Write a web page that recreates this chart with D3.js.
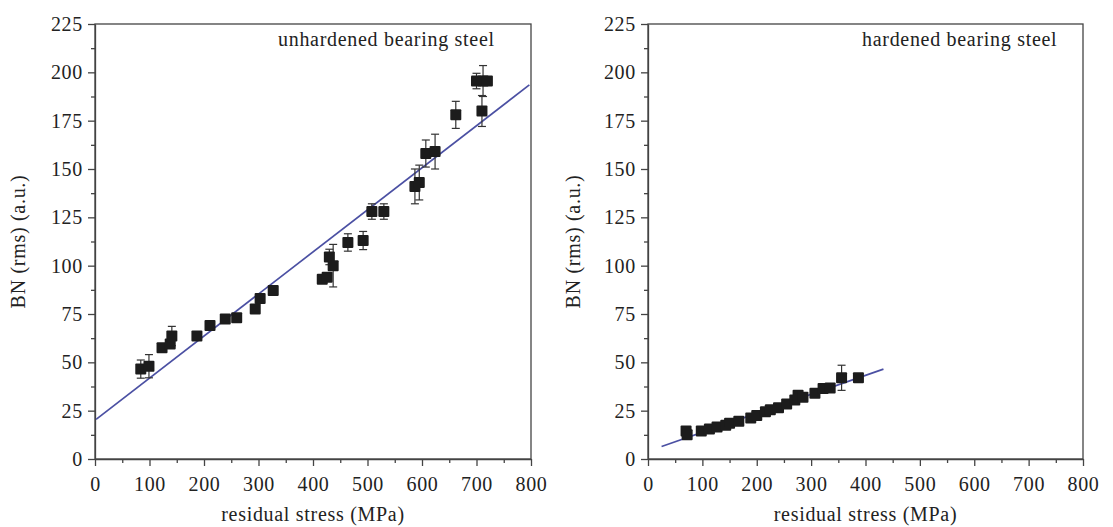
<!DOCTYPE html>
<html>
<head>
<meta charset="utf-8">
<script src="https://cdn.jsdelivr.net/npm/d3@7"></script>
<style>
  body { margin: 0; background: #fff; }
  svg text { font-family: "Liberation Serif", "Times New Roman", serif; fill: #222; letter-spacing: 0.7px; }
</style>
</head>
<body>
<svg id="chart" width="1113" height="527"></svg>
<script>
// unhardened bearing steel: stress (MPa), BN, error
const unhardenedX = [84, 99, 123, 138, 141, 187, 211, 239, 260, 294, 303, 327, 417, 426, 430, 437,
	464, 492, 508, 530, 587, 595, 607, 624, 662, 710, 700, 712, 720];
const unhardenedY = [46.5, 48, 57.5, 59.5, 63.6, 63.6, 69, 72.4, 73, 77.6, 83, 87.2, 93, 94, 104.5, 100,
	112, 113, 128, 128, 141, 143, 158, 159, 178, 180, 195.5, 195.5, 195.5];
const unhardenedErr = [4.7, 6, 0, 0, 5, 0, 1.5, 0, 0, 0, 0, 0, 0, 0, 4, 11,
	4.5, 4.7, 4, 4, 9, 9, 7, 9, 7, 8, 4, 8, 0];
const unhardenedFit = [[2, 20.5], [797, 193.5]];

// hardened bearing steel
const hardenedX = [70, 72, 98, 113, 127, 143, 150, 167, 189, 200, 216, 225, 240, 255, 270, 276, 285,
	307, 322, 335, 356, 387];
const hardenedY = [14.5, 12.5, 14.5, 15.5, 16.5, 17.5, 18.5, 19.5, 21.2, 22.5, 24.5, 25.5, 26.5, 28.5,
	30.5, 33, 32, 34, 36.5, 36.7, 42, 42];
const hardenedErr = [0, 0, 0, 0, 0, 0, 0, 0, 0, 0, 0, 0, 0, 0, 0, 0, 0, 0, 0, 0, 6.5, 0];
const hardenedFit = [[25, 6.5], [433, 46.5]];

const xMajor = [0, 100, 200, 300, 400, 500, 600, 700, 800];
const yMajor = [0, 25, 50, 75, 100, 125, 150, 175, 200, 225];
const xLabel = "residual stress (MPa)";
const yLabel = "BN (rms) (a.u.)";

const svg = d3.select("#chart");
const plotTop = 24, plotH = 435;
const serif = '"Liberation Serif", "Times New Roman", serif';

function drawPanel(left, width, xs, ys, errs, fit, title, titleX, yTitleX) {
	const g = svg.append("g").attr("transform", `translate(${left},${plotTop})`);
	const x = d3.scaleLinear([0, 800], [0, width]);
	const y = d3.scaleLinear([0, 225], [plotH, 0]);

	// minor ticks
	const xMinor = d3.range(50, 800, 100);
	const yMinor = d3.range(12.5, 225, 25);
	const axisColor = "#444";

	const xAx = g.append("g").attr("transform", `translate(0,${plotH})`)
		.call(d3.axisBottom(x).tickValues(xMajor).tickSize(7).tickSizeOuter(0).tickPadding(6));
	g.append("g").attr("transform", `translate(0,${plotH})`)
		.call(d3.axisBottom(x).tickValues(xMinor).tickSize(4).tickSizeOuter(0).tickFormat(""))
		.select(".domain").remove();
	g.append("g")
		.call(d3.axisLeft(y).tickValues(yMajor).tickSize(7).tickSizeOuter(0).tickPadding(5));
	g.append("g")
		.call(d3.axisLeft(y).tickValues(yMinor).tickSize(4).tickSizeOuter(0).tickFormat(""))
		.select(".domain").remove();

	g.selectAll(".tick line").attr("stroke", axisColor).attr("stroke-width", 1.3);
	g.selectAll(".domain").attr("stroke", axisColor).attr("stroke-width", 1.3);
	g.selectAll(".tick text")
		.style("font-family", serif).style("font-size", "20px").attr("fill", "#222");
	xAx.selectAll(".tick text").attr("dy", "0.95em");

	// frame
	g.append("rect").attr("width", width).attr("height", plotH)
		.attr("fill", "none").attr("stroke", axisColor).attr("stroke-width", 1.3);

	// fit line
	g.append("line")
		.attr("x1", x(fit[0][0])).attr("y1", y(fit[0][1]))
		.attr("x2", x(fit[1][0])).attr("y2", y(fit[1][1]))
		.attr("stroke", "#4b50a3").attr("stroke-width", 1.7);

	const pts = xs.map((d, i) => ({ x: d, y: ys[i], e: errs[i] }));

	// error bars
	const eb = g.append("g").attr("stroke", "#333").attr("stroke-width", 1.2);
	pts.filter(d => d.e > 0).forEach(d => {
		const cx = x(d.x);
		eb.append("line").attr("x1", cx).attr("x2", cx).attr("y1", y(d.y - d.e)).attr("y2", y(d.y + d.e));
		eb.append("line").attr("x1", cx - 4).attr("x2", cx + 4).attr("y1", y(d.y - d.e)).attr("y2", y(d.y - d.e));
		eb.append("line").attr("x1", cx - 4).attr("x2", cx + 4).attr("y1", y(d.y + d.e)).attr("y2", y(d.y + d.e));
	});

	// square markers
	const s = 11;
	g.append("g").selectAll("rect").data(pts).join("rect")
		.attr("x", d => x(d.x) - s / 2).attr("y", d => y(d.y) - s / 2)
		.attr("width", s).attr("height", s).attr("rx", 1)
		.attr("fill", "#1c1c1c");

	// title inside plot
	svg.append("text").attr("x", titleX).attr("y", 46).style("font-size", "20px").text(title);

	// axis labels
	svg.append("text").attr("x", left + width / 2).attr("y", 521)
		.attr("text-anchor", "middle").style("font-size", "20px").text(xLabel);
	svg.append("text").attr("transform", `translate(${yTitleX},${plotTop + plotH / 2}) rotate(-90)`)
		.attr("text-anchor", "middle").style("font-size", "20px").text(yLabel);
}

drawPanel(95, 436, unhardenedX, unhardenedY, unhardenedErr, unhardenedFit,
	"unhardened bearing steel", 278, 25);
drawPanel(648, 435, hardenedX, hardenedY, hardenedErr, hardenedFit,
	"hardened bearing steel", 862, 580);
</script>
</body>
</html>
